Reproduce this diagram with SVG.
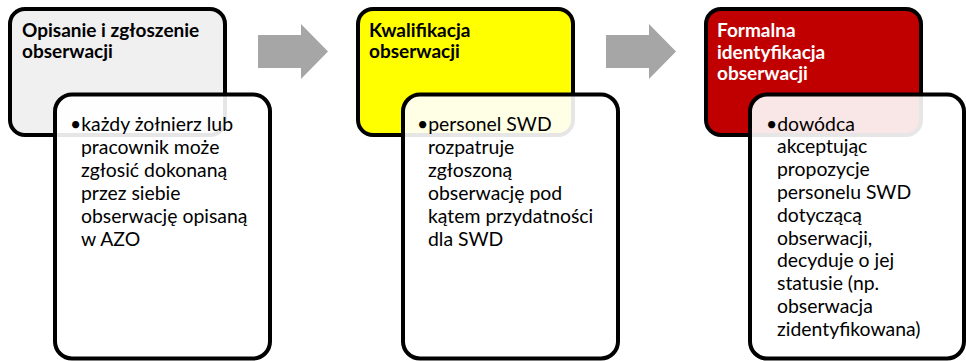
<svg xmlns="http://www.w3.org/2000/svg" width="966" height="361" viewBox="0 0 966 361">
<defs>
<style>
.back{stroke:#000;stroke-width:4}
.front{fill:#fff;fill-opacity:0.9;stroke:#000;stroke-width:4}
.title{font-family:Lato,"Liberation Sans",sans-serif;font-weight:bold;font-size:19px;fill:#000}
.w{fill:#fff}
.body{font-family:Lato,"Liberation Sans",sans-serif;font-size:19.4px;fill:#000}
.arrow{fill:#A6A6A6}
</style>
</defs>
<rect width="966" height="361" fill="#fff"/>
<g id="connectors">
<polygon class="arrow" points="258,35 301,35 301,24 328,51.5 301,79 301,68 258,68"/>
<polygon class="arrow" points="606,35 649,35 649,24 676,51.5 649,79 649,68 606,68"/>
</g>
<g id="node1">
<rect class="back" x="10" y="9" width="215" height="126" rx="15" fill="#F0F0F0"/>
<text class="title" x="22" y="37">Opisanie i zgłoszenie</text>
<text class="title" x="22" y="58">obserwacji</text>
<rect class="front" x="55" y="94.5" width="215" height="264" rx="17"/>
<text class="body" x="70" y="131">•każdy żołnierz lub</text>
<text class="body" x="81" y="154">pracownik może</text>
<text class="body" x="81" y="177">zgłosić dokonaną</text>
<text class="body" x="81" y="200">przez siebie</text>
<text class="body" x="81" y="223">obserwację opisaną</text>
<text class="body" x="81" y="246">w AZO</text>
</g>
<g id="node2">
<rect class="back" x="358" y="9" width="215" height="126" rx="15" fill="#FFFF00"/>
<text class="title" x="369" y="37">Kwalifikacja</text>
<text class="title" x="369" y="58">obserwacji</text>
<rect class="front" x="403" y="94.5" width="215" height="264" rx="17"/>
<text class="body" x="417" y="131">•personel SWD</text>
<text class="body" x="428" y="154">rozpatruje</text>
<text class="body" x="428" y="177">zgłoszoną</text>
<text class="body" x="428" y="200">obserwację pod</text>
<text class="body" x="428" y="223">kątem przydatności</text>
<text class="body" x="428" y="246">dla SWD</text>
</g>
<g id="node3">
<rect class="back" x="706" y="9" width="215" height="126" rx="15" fill="#C00000"/>
<text class="title w" x="717" y="37">Formalna</text>
<text class="title w" x="717" y="58.5">identyfikacja</text>
<text class="title w" x="717" y="80">obserwacji</text>
<rect class="front" x="750" y="94.5" width="214" height="264" rx="17"/>
<text class="body" x="766" y="130.5">•dowódca</text>
<text class="body" x="777" y="153.3">akceptując</text>
<text class="body" x="777" y="176.1">propozycje</text>
<text class="body" x="777" y="198.9">personelu SWD</text>
<text class="body" x="777" y="221.7">dotyczącą</text>
<text class="body" x="777" y="244.5">obserwacji,</text>
<text class="body" x="777" y="267.3">decyduje o jej</text>
<text class="body" x="777" y="290.1">statusie (np.</text>
<text class="body" x="777" y="312.9">obserwacja</text>
<text class="body" x="777" y="335.7">zidentyfikowana)</text>
</g>
</svg>
